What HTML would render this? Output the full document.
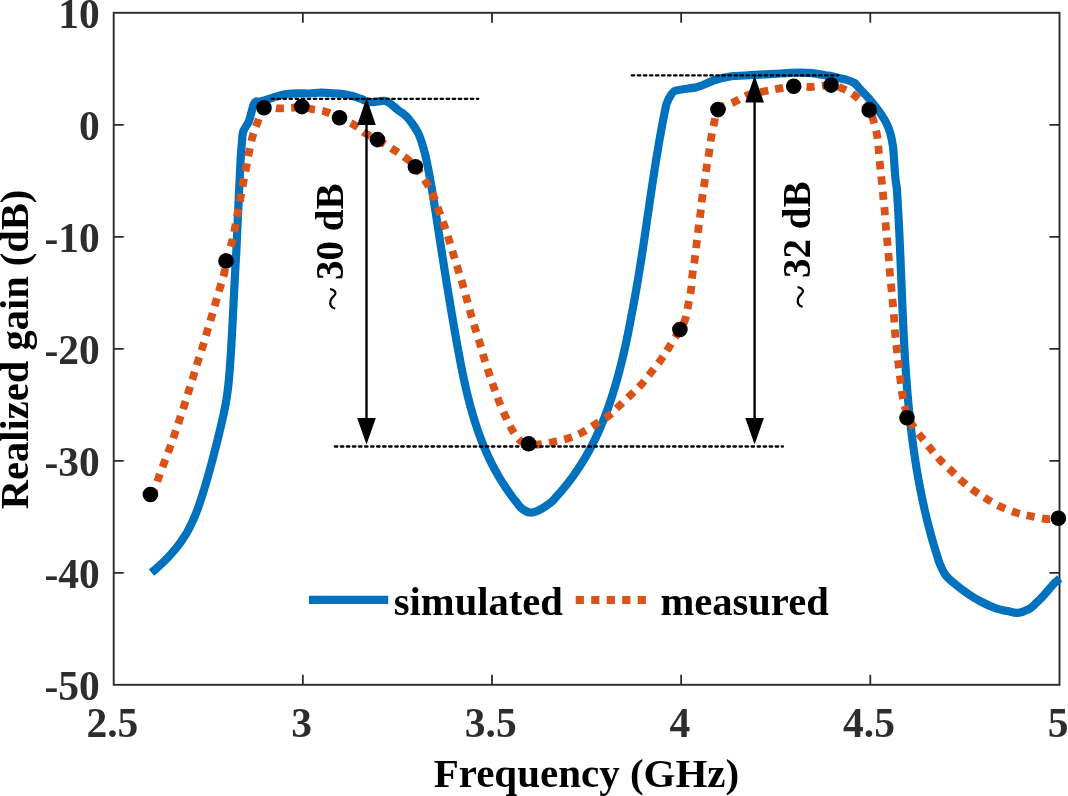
<!DOCTYPE html>
<html><head><meta charset="utf-8"><style>
html,body{margin:0;padding:0;background:#fff;width:1068px;height:796px;overflow:hidden;}
svg{display:block;font-family:"Liberation Serif",serif;will-change:transform;}
</style></head><body>
<svg width="1068" height="796" viewBox="0 0 1068 796" font-family="Liberation Serif, serif" font-weight="bold" font-size="40"><rect x="113.7" y="12.8" width="945.8" height="672.0" fill="none" stroke="#2b2b2b" stroke-width="1.9"/>
<path d="M302.85,684.8 V674.8 M302.85,12.8 V22.8 M492.00,684.8 V674.8 M492.00,12.8 V22.8 M681.15,684.8 V674.8 M681.15,12.8 V22.8 M870.30,684.8 V674.8 M870.30,12.8 V22.8 M113.7,572.80 H123.7 M1059.5,572.80 H1049.5 M113.7,460.80 H123.7 M1059.5,460.80 H1049.5 M113.7,348.80 H123.7 M1059.5,348.80 H1049.5 M113.7,236.80 H123.7 M1059.5,236.80 H1049.5 M113.7,124.80 H123.7 M1059.5,124.80 H1049.5" stroke="#2b2b2b" stroke-width="1.8" fill="none"/>
<g fill="#2d2d2d" font-size="41.5"><text x="99.8" y="699.7" text-anchor="end">-50</text><text x="99.8" y="587.7" text-anchor="end">-40</text><text x="99.8" y="475.7" text-anchor="end">-30</text><text x="99.8" y="363.7" text-anchor="end">-20</text><text x="99.8" y="251.7" text-anchor="end">-10</text><text x="99.8" y="139.7" text-anchor="end">0</text><text x="99.8" y="27.7" text-anchor="end">10</text><text x="112.4" y="736.6" text-anchor="middle">2.5</text><text x="301.6" y="736.6" text-anchor="middle">3</text><text x="490.7" y="736.6" text-anchor="middle">3.5</text><text x="679.9" y="736.6" text-anchor="middle">4</text><text x="869.0" y="736.6" text-anchor="middle">4.5</text><text x="1058.2" y="736.6" text-anchor="middle">5</text></g>
<text x="586.4" y="787.2" text-anchor="middle" fill="#000" font-size="41">Frequency (GHz)</text>
<text transform="translate(27.8,349.4) rotate(-90)" text-anchor="middle" fill="#000" font-size="40.5">Realized gain (dB)</text>
<path d="M151.50,572.60 C152.25,571.97 154.51,570.09 156.00,568.79 C157.49,567.49 158.98,566.15 160.45,564.78 C161.92,563.41 163.38,562.00 164.82,560.57 C166.26,559.14 167.68,557.68 169.07,556.19 C170.46,554.70 171.83,553.18 173.16,551.64 C174.49,550.10 175.79,548.53 177.05,546.93 C178.31,545.33 179.54,543.70 180.71,542.06 C181.88,540.41 183.02,538.75 184.10,537.06 C185.18,535.37 186.21,533.65 187.20,531.92 C188.19,530.19 189.13,528.44 190.03,526.67 C190.93,524.90 191.79,523.11 192.61,521.31 C193.43,519.51 194.21,517.69 194.97,515.86 C195.73,514.03 196.45,512.18 197.15,510.33 C197.85,508.48 198.52,506.62 199.18,504.74 C199.84,502.87 200.47,500.97 201.09,499.08 C201.71,497.19 202.31,495.29 202.90,493.39 C203.49,491.49 204.07,489.57 204.64,487.66 C205.21,485.75 205.78,483.83 206.34,481.91 C206.90,479.99 207.45,478.06 208.00,476.14 C208.55,474.21 209.09,472.29 209.62,470.36 C210.16,468.43 210.69,466.49 211.21,464.55 C211.73,462.61 212.25,460.66 212.76,458.72 C213.27,456.78 213.78,454.84 214.28,452.89 C214.78,450.94 215.28,448.98 215.77,447.03 C216.26,445.08 216.75,443.13 217.24,441.17 C217.73,439.21 218.20,437.25 218.68,435.29 C219.16,433.33 219.64,431.37 220.11,429.40 C220.58,427.43 221.06,425.47 221.52,423.50 C221.98,421.53 222.43,419.57 222.87,417.60 C223.31,415.63 223.74,413.65 224.15,411.68 C224.56,409.71 224.95,407.74 225.32,405.76 C225.69,403.78 226.03,401.81 226.35,399.83 C226.67,397.85 226.97,395.87 227.25,393.89 C227.53,391.91 227.77,389.93 228.01,387.95 C228.25,385.97 228.46,383.98 228.66,381.99 C228.86,380.00 229.04,378.03 229.21,376.04 C229.38,374.05 229.55,372.06 229.70,370.07 C229.85,368.08 229.99,366.09 230.13,364.10 C230.27,362.11 230.40,360.12 230.53,358.13 C230.66,356.14 230.79,354.14 230.91,352.15 C231.03,350.15 231.15,348.16 231.27,346.16 C231.39,344.16 231.50,342.17 231.62,340.17 C231.74,338.17 231.85,336.18 231.96,334.18 C232.07,332.18 232.18,330.18 232.29,328.18 C232.40,326.18 232.50,324.18 232.60,322.18 C232.70,320.18 232.81,318.17 232.91,316.17 C233.01,314.17 233.12,312.16 233.22,310.16 C233.32,308.16 233.42,306.15 233.52,304.15 C233.62,302.15 233.72,300.14 233.82,298.14 C233.92,296.14 234.03,294.13 234.13,292.13 C234.23,290.12 234.33,288.12 234.43,286.11 C234.53,284.10 234.64,282.10 234.74,280.09 C234.84,278.08 234.95,276.07 235.05,274.07 C235.16,272.06 235.26,270.06 235.37,268.06 C235.48,266.06 235.59,264.05 235.70,262.04 C235.81,260.03 235.92,258.03 236.04,256.02 C236.16,254.01 235.92,260.17 236.40,250.00 C236.88,239.83 238.22,209.70 238.90,195.00 C239.58,180.30 239.97,170.97 240.50,161.80 C241.03,152.63 241.62,145.13 242.10,140.00 C242.58,134.87 242.32,134.02 243.40,131.00 C244.48,127.98 247.27,124.98 248.60,121.90 C249.93,118.82 250.52,115.48 251.40,112.50 C252.28,109.52 253.05,105.87 253.90,104.00 C254.75,102.13 255.58,101.67 256.50,101.30 C257.42,100.93 258.30,101.92 259.40,101.80 C260.50,101.68 261.23,101.17 263.10,100.60 C264.97,100.03 268.58,99.02 270.60,98.40 C272.62,97.78 273.33,97.47 275.20,96.90 C277.07,96.33 279.90,95.48 281.80,95.00 C283.70,94.52 283.92,94.28 286.60,94.00 C289.28,93.72 294.13,93.38 297.90,93.30 C301.67,93.22 305.43,93.62 309.20,93.50 C312.97,93.38 317.03,92.65 320.50,92.60 C323.97,92.55 326.53,93.00 330.00,93.20 C333.47,93.40 337.53,93.33 341.30,93.80 C345.07,94.27 349.20,95.10 352.60,96.00 C356.00,96.90 358.87,98.18 361.70,99.20 C364.53,100.22 366.97,101.72 369.60,102.10 C372.23,102.48 374.87,101.70 377.50,101.50 C380.13,101.30 383.13,100.43 385.40,100.90 C387.67,101.37 389.02,102.78 391.10,104.30 C393.18,105.82 395.33,107.98 397.90,110.00 C400.47,112.02 404.18,114.23 406.50,116.40 C408.82,118.57 409.95,120.40 411.80,123.00 C413.65,125.60 416.10,129.23 417.60,132.00 C419.10,134.77 419.87,137.05 420.80,139.60 C421.73,142.15 422.45,144.72 423.20,147.30 C423.95,149.88 424.68,152.47 425.31,155.06 C425.94,157.65 426.46,160.24 427.00,162.84 C427.54,165.44 428.06,168.04 428.57,170.65 C429.08,173.26 429.57,175.88 430.05,178.50 C430.53,181.12 430.99,183.76 431.44,186.39 C431.89,189.02 432.33,191.66 432.77,194.30 C433.20,196.94 433.63,199.60 434.05,202.25 C434.47,204.90 434.89,207.56 435.30,210.22 C435.71,212.88 436.12,215.54 436.53,218.21 C436.94,220.88 437.35,223.56 437.76,226.23 C438.17,228.90 438.59,231.58 439.00,234.26 C439.41,236.94 439.82,239.62 440.24,242.30 C440.66,244.98 441.08,247.67 441.50,250.36 C441.92,253.05 442.34,255.74 442.76,258.43 C443.18,261.12 443.60,263.81 444.03,266.50 C444.46,269.19 444.89,271.88 445.32,274.57 C445.75,277.26 446.19,279.95 446.62,282.64 C447.06,285.33 447.49,288.03 447.93,290.72 C448.37,293.41 448.81,296.09 449.26,298.78 C449.70,301.47 450.15,304.15 450.60,306.84 C451.05,309.52 451.50,312.21 451.96,314.89 C452.41,317.57 452.87,320.25 453.33,322.92 C453.79,325.60 454.26,328.27 454.73,330.94 C455.20,333.61 455.66,336.27 456.14,338.93 C456.62,341.59 457.10,344.26 457.58,346.91 C458.06,349.56 458.55,352.21 459.04,354.85 C459.53,357.49 460.03,360.13 460.54,362.77 C461.05,365.40 461.57,368.04 462.10,370.66 C462.63,373.28 463.17,375.89 463.73,378.50 C464.29,381.11 464.86,383.72 465.45,386.31 C466.04,388.90 466.64,391.48 467.27,394.06 C467.89,396.64 468.53,399.21 469.20,401.77 C469.87,404.33 470.55,406.89 471.26,409.43 C471.97,411.97 472.70,414.50 473.46,417.02 C474.22,419.54 475.00,422.05 475.82,424.55 C476.64,427.05 477.48,429.54 478.36,432.02 C479.24,434.50 480.14,436.97 481.08,439.42 C482.02,441.87 482.99,444.31 484.00,446.74 C485.01,449.17 486.06,451.58 487.14,453.98 C488.22,456.38 489.34,458.77 490.51,461.14 C491.68,463.51 492.88,465.88 494.13,468.22 C495.38,470.56 496.66,472.89 498.00,475.20 C499.34,477.51 500.73,479.81 502.16,482.09 C503.59,484.37 505.07,486.63 506.60,488.88 C508.13,491.12 509.71,493.35 511.34,495.56 C512.97,497.77 514.66,499.97 516.40,502.14 C518.14,504.31 519.48,506.87 521.80,508.60 C524.12,510.33 527.53,512.18 530.30,512.50 C533.07,512.82 535.03,512.12 538.40,510.50 C541.77,508.88 547.52,505.09 550.50,502.80 C553.48,500.51 554.40,498.79 556.28,496.75 C558.16,494.71 559.98,492.64 561.76,490.56 C563.54,488.48 565.27,486.38 566.95,484.25 C568.63,482.12 570.27,479.98 571.86,477.81 C573.45,475.64 575.00,473.46 576.50,471.26 C578.00,469.06 579.47,466.84 580.89,464.60 C582.31,462.36 583.69,460.10 585.03,457.83 C586.37,455.56 587.67,453.27 588.94,450.96 C590.21,448.65 591.44,446.33 592.63,443.99 C593.82,441.65 594.98,439.29 596.10,436.92 C597.22,434.55 598.31,432.17 599.37,429.77 C600.43,427.37 601.46,424.96 602.46,422.53 C603.46,420.10 604.43,417.66 605.37,415.21 C606.31,412.76 607.21,410.29 608.10,407.81 C608.99,405.33 609.85,402.84 610.69,400.34 C611.53,397.84 612.34,395.32 613.13,392.80 C613.92,390.28 614.68,387.74 615.43,385.19 C616.18,382.64 616.90,380.09 617.61,377.53 C618.32,374.97 619.01,372.39 619.68,369.81 C620.35,367.23 621.01,364.64 621.65,362.04 C622.29,359.44 622.91,356.84 623.52,354.23 C624.13,351.62 624.72,348.99 625.30,346.36 C625.88,343.73 626.45,341.10 627.00,338.46 C627.55,335.82 628.09,333.17 628.61,330.52 C629.13,327.87 629.65,325.21 630.15,322.55 C630.65,319.89 631.19,316.86 631.63,314.55 C632.07,312.24 632.39,310.66 632.76,308.71 C633.13,306.76 633.51,304.81 633.87,302.86 C634.23,300.91 634.59,298.96 634.94,297.01 C635.29,295.06 635.64,293.10 635.98,291.15 C636.32,289.20 636.66,287.24 637.00,285.29 C637.34,283.34 637.66,281.38 637.99,279.43 C638.32,277.48 638.64,275.52 638.96,273.56 C639.28,271.60 639.60,269.64 639.91,267.68 C640.22,265.72 640.53,263.77 640.84,261.81 C641.15,259.85 641.46,257.89 641.76,255.93 C642.06,253.97 642.36,252.01 642.66,250.05 C642.96,248.09 643.26,246.13 643.55,244.17 C643.84,242.21 644.13,240.24 644.42,238.28 C644.71,236.32 645.00,234.36 645.29,232.40 C645.58,230.44 645.87,228.47 646.16,226.51 C646.45,224.55 646.74,222.58 647.02,220.62 C647.30,218.66 647.59,216.69 647.87,214.73 C648.15,212.77 648.44,210.81 648.73,208.85 C649.02,206.89 649.30,204.92 649.59,202.96 C649.88,201.00 650.17,199.03 650.46,197.07 C650.75,195.11 651.04,193.15 651.33,191.19 C651.62,189.23 651.91,187.26 652.20,185.30 C652.49,183.34 652.79,181.38 653.09,179.42 C653.39,177.46 653.69,175.50 653.99,173.54 C654.29,171.58 654.60,169.63 654.91,167.67 C655.22,165.71 655.53,163.75 655.84,161.79 C656.15,159.83 656.47,157.88 656.79,155.92 C657.11,153.96 657.43,152.00 657.76,150.05 C658.09,148.10 658.42,146.14 658.76,144.19 C659.10,142.24 659.43,140.28 659.77,138.33 C660.11,136.38 660.47,134.43 660.82,132.48 C661.17,130.53 661.53,128.58 661.89,126.63 C662.25,124.68 662.63,122.74 663.00,120.79 C663.37,118.84 663.75,116.90 664.13,114.95 C664.51,113.00 664.87,111.08 665.31,109.12 C665.75,107.16 665.92,105.49 666.80,103.20 C667.68,100.91 669.27,97.45 670.60,95.40 C671.93,93.35 672.73,91.92 674.80,90.90 C676.87,89.88 679.75,89.85 683.00,89.30 C686.25,88.75 691.47,88.12 694.30,87.60 C697.13,87.08 696.55,87.47 700.00,86.20 C703.45,84.93 710.00,81.62 715.00,80.00 C720.00,78.38 725.02,77.25 730.00,76.50 C734.98,75.75 739.92,75.82 744.90,75.50 C749.88,75.18 754.90,74.88 759.90,74.60 C764.90,74.32 770.38,74.05 774.90,73.80 C779.42,73.55 782.82,73.30 787.00,73.10 C791.18,72.90 795.83,72.58 800.00,72.60 C804.17,72.62 807.83,72.77 812.00,73.20 C816.17,73.63 821.67,74.68 825.00,75.20 C828.33,75.72 829.50,75.78 832.00,76.30 C834.50,76.82 837.50,77.72 840.00,78.30 C842.50,78.88 844.58,79.02 847.00,79.80 C849.42,80.58 852.50,81.63 854.50,83.00 C856.50,84.37 857.05,85.92 859.00,88.00 C860.95,90.08 863.78,92.83 866.20,95.50 C868.62,98.17 871.10,101.00 873.50,104.00 C875.90,107.00 878.47,110.33 880.60,113.50 C882.73,116.67 884.70,119.75 886.30,123.00 C887.90,126.25 889.08,129.08 890.20,133.00 C891.32,136.92 892.35,142.00 893.00,146.50 C893.65,151.00 893.78,155.75 894.10,160.00 C894.42,164.25 894.65,168.67 894.90,172.00 C895.15,175.33 895.29,177.33 895.60,180.00 C895.91,182.67 896.50,185.34 896.78,188.01 C897.06,190.68 897.14,193.35 897.31,196.03 C897.48,198.71 897.64,201.38 897.80,204.06 C897.96,206.74 898.11,209.41 898.26,212.09 C898.41,214.77 898.55,217.46 898.69,220.14 C898.83,222.82 898.97,225.50 899.10,228.19 C899.23,230.88 899.36,233.56 899.48,236.25 C899.60,238.94 899.72,241.62 899.84,244.31 C899.96,247.00 900.08,249.69 900.19,252.38 C900.30,255.07 900.41,257.76 900.52,260.45 C900.63,263.14 900.74,265.84 900.85,268.53 C900.96,271.22 901.06,273.92 901.17,276.61 C901.28,279.30 901.39,282.00 901.50,284.69 C901.61,287.38 901.71,290.08 901.82,292.77 C901.93,295.46 902.04,298.16 902.15,300.85 C902.26,303.54 902.38,306.24 902.49,308.93 C902.61,311.62 902.72,314.32 902.84,317.01 C902.96,319.70 903.08,322.40 903.21,325.09 C903.34,327.78 903.47,330.48 903.60,333.17 C903.74,335.86 903.88,338.56 904.02,341.25 C904.16,343.94 904.31,346.63 904.46,349.32 C904.61,352.01 904.77,354.70 904.93,357.39 C905.09,360.08 905.25,362.76 905.43,365.45 C905.61,368.13 905.79,370.82 905.98,373.50 C906.17,376.18 906.36,378.87 906.56,381.55 C906.76,384.23 906.97,386.92 907.19,389.60 C907.41,392.28 907.63,394.95 907.87,397.63 C908.11,400.31 908.35,402.99 908.60,405.66 C908.85,408.33 909.12,411.00 909.39,413.67 C909.66,416.34 909.94,419.01 910.23,421.68 C910.52,424.35 910.83,427.02 911.14,429.68 C911.45,432.34 911.77,435.00 912.11,437.66 C912.45,440.32 912.80,442.98 913.16,445.64 C913.52,448.30 913.88,450.95 914.27,453.60 C914.65,456.25 915.06,458.90 915.47,461.54 C915.88,464.19 916.30,466.83 916.74,469.47 C917.18,472.11 917.63,474.75 918.10,477.39 C918.57,480.03 919.05,482.66 919.55,485.29 C920.05,487.92 920.55,490.55 921.08,493.18 C921.61,495.81 922.15,498.43 922.71,501.05 C923.27,503.67 923.85,506.29 924.44,508.90 C925.04,511.51 925.65,514.12 926.28,516.73 C926.91,519.34 927.55,521.95 928.21,524.55 C928.87,527.15 929.56,529.75 930.26,532.34 C930.96,534.93 931.67,537.52 932.41,540.11 C933.15,542.70 933.91,545.28 934.69,547.86 C935.47,550.44 936.26,553.02 937.08,555.59 C937.90,558.16 938.20,560.08 939.60,563.30 C941.00,566.52 942.80,571.35 945.50,574.90 C948.20,578.45 951.92,581.37 955.80,584.60 C959.68,587.83 964.48,591.40 968.80,594.30 C973.12,597.20 977.40,599.75 981.70,602.00 C986.00,604.25 990.30,606.28 994.60,607.80 C998.90,609.32 1003.60,610.27 1007.50,611.10 C1011.40,611.93 1014.43,613.12 1018.00,612.80 C1021.57,612.48 1025.83,610.87 1028.90,609.20 C1031.97,607.53 1033.90,605.13 1036.40,602.80 C1038.90,600.47 1041.57,597.73 1043.90,595.20 C1046.23,592.67 1048.48,589.77 1050.40,587.60 C1052.32,585.43 1053.85,583.73 1055.40,582.20 C1056.95,580.67 1058.98,579.03 1059.70,578.40" fill="none" stroke="#0072BD" stroke-width="8.2" stroke-linejoin="round"/>
<g fill="none" stroke="#D95319" stroke-width="7.8" stroke-dasharray="8.2 7.18"><path d="M150.40,494.50 C151.05,493.62 152.93,492.02 154.30,489.20 C155.67,486.38 157.00,481.90 158.60,477.60 C160.20,473.30 162.10,468.17 163.90,463.40 C165.70,458.63 167.63,453.82 169.40,449.00 C171.17,444.18 172.83,439.33 174.50,434.50 C176.17,429.67 177.77,424.88 179.40,420.00 C181.03,415.12 182.72,410.12 184.30,405.20 C185.88,400.28 187.37,395.40 188.90,390.50 C190.43,385.60 191.98,380.70 193.50,375.80 C195.02,370.90 196.45,366.00 198.00,361.10 C199.55,356.20 201.28,351.30 202.80,346.40 C204.32,341.50 205.63,336.65 207.10,331.70 C208.57,326.75 210.15,321.65 211.60,316.70 C213.05,311.75 214.38,306.90 215.80,302.00 C217.22,297.10 218.68,292.10 220.10,287.30 C221.52,282.50 223.32,277.58 224.30,273.20 C225.28,268.82 224.75,266.10 226.00,261.00" stroke-dashoffset="0.56"/><path d="M226.00,261.00 C227.25,255.90 230.32,248.12 231.80,242.60 C233.28,237.08 233.92,232.90 234.90,227.90 C235.88,222.90 236.77,217.60 237.70,212.60 C238.63,207.60 239.57,202.90 240.50,197.90 C241.43,192.90 242.35,187.68 243.30,182.60 C244.25,177.52 245.22,172.57 246.20,167.40 C247.18,162.23 248.13,156.78 249.20,151.60 C250.27,146.42 251.18,141.25 252.60,136.30 C254.02,131.35 255.80,126.67 257.70,121.90 C259.60,117.13 260.33,109.95 264.00,107.70" stroke-dashoffset="0.50"/><path d="M264.00,107.70 C267.67,105.45 274.53,108.43 279.70,108.40 C284.87,108.37 291.32,107.80 295.00,107.50 C298.68,107.20 298.97,106.32 301.80,106.60" stroke-dashoffset="3.36"/><path d="M301.80,106.60 C304.63,106.88 308.03,108.35 312.00,109.20 C315.97,110.05 321.02,110.28 325.60,111.70 C330.18,113.12 334.77,115.52 339.50,117.70" stroke-dashoffset="9.90"/><path d="M339.50,117.70 C344.23,119.88 349.65,122.17 354.00,124.80 C358.35,127.43 361.70,131.03 365.60,133.50 C369.50,135.97 372.62,136.83 377.40,139.60" stroke-dashoffset="3.07"/><path d="M377.40,139.60 C382.18,142.37 389.47,146.97 394.30,150.10 C399.13,153.23 402.88,155.63 406.40,158.40 C409.92,161.17 412.02,162.55 415.40,166.70" stroke-dashoffset="14.67"/><path d="M415.40,166.70 C418.78,170.85 423.68,178.40 426.70,183.30 C429.72,188.20 431.47,191.50 433.50,196.10 C435.53,200.70 437.12,206.05 438.90,210.90 C440.68,215.75 442.52,220.35 444.20,225.20 C445.88,230.05 447.45,235.08 449.00,240.00 C450.55,244.92 452.00,249.80 453.50,254.70 C455.00,259.60 456.48,264.50 458.00,269.40 C459.52,274.30 461.17,279.25 462.60,284.10 C464.03,288.95 465.25,293.57 466.60,298.50 C467.95,303.43 469.27,308.70 470.70,313.70 C472.13,318.70 473.68,323.58 475.20,328.50 C476.72,333.42 478.33,338.30 479.80,343.20 C481.27,348.10 482.50,352.98 484.00,357.90 C485.50,362.82 487.17,367.80 488.80,372.70 C490.43,377.60 492.08,382.48 493.80,387.30 C495.52,392.12 497.20,396.85 499.10,401.60 C501.00,406.35 503.05,411.17 505.20,415.80 C507.35,420.43 509.48,425.25 512.00,429.40 C514.52,433.55 517.53,438.32 520.30,440.70 C523.07,443.08 525.58,443.07 528.60,443.70" stroke-dashoffset="15.22"/><path d="M528.60,443.70 C531.62,444.33 534.50,444.75 538.40,444.50 C542.30,444.25 547.10,443.20 552.00,442.20 C556.90,441.20 562.77,440.13 567.80,438.50 C572.83,436.87 577.55,434.80 582.20,432.40 C586.85,430.00 591.30,426.87 595.70,424.10 C600.10,421.33 604.72,418.82 608.60,415.80 C612.48,412.78 615.28,409.50 619.00,406.00 C622.72,402.50 627.15,398.42 630.90,394.80 C634.65,391.18 638.10,388.07 641.50,384.30 C644.90,380.53 648.03,376.35 651.30,372.20 C654.57,368.05 658.08,363.67 661.10,359.40 C664.12,355.13 666.27,351.58 669.40,346.60 C672.53,341.62 677.27,334.03 679.90,329.50" stroke-dashoffset="10.01"/><path d="M679.90,329.50 C682.53,324.97 683.82,323.47 685.20,319.40 C686.58,315.33 687.23,310.00 688.20,305.10 C689.17,300.20 690.30,295.05 691.00,290.00 C691.70,284.95 691.78,279.85 692.40,274.80 C693.02,269.75 694.00,264.85 694.70,259.70 C695.40,254.55 695.98,249.05 696.60,243.90 C697.22,238.75 697.77,233.83 698.40,228.80 C699.03,223.77 699.77,218.85 700.40,213.70 C701.03,208.55 701.52,203.05 702.20,197.90 C702.88,192.75 703.78,187.78 704.50,182.80 C705.22,177.82 705.75,172.97 706.50,168.00 C707.25,163.03 708.20,158.13 709.00,153.00 C709.80,147.87 710.42,142.35 711.30,137.20 C712.18,132.05 713.18,126.70 714.30,122.10 C715.42,117.50 714.62,112.98 718.00,109.60" stroke-dashoffset="8.72"/><path d="M718.00,109.60 C721.38,106.22 729.57,104.23 734.60,101.80 C739.63,99.37 743.17,96.77 748.20,95.00 C753.23,93.23 759.78,92.25 764.80,91.20 C769.82,90.15 773.48,89.53 778.30,88.70 C783.12,87.87 788.30,86.48 793.70,86.20" stroke-dashoffset="0.26"/><path d="M793.70,86.20 C799.10,85.92 804.47,87.18 810.70,87.00 C816.93,86.82 825.82,84.85 831.10,85.10" stroke-dashoffset="2.45"/><path d="M831.10,85.10 C836.38,85.35 838.38,86.68 842.40,88.50 C846.42,90.32 850.73,92.43 855.20,96.00 C859.67,99.57 866.18,105.88 869.20,109.90" stroke-dashoffset="7.60"/><path d="M869.20,109.90 C872.22,113.92 871.98,115.88 873.30,120.10 C874.62,124.32 876.22,130.30 877.10,135.20 C877.98,140.10 878.12,144.50 878.60,149.50 C879.08,154.50 879.50,160.05 880.00,165.20 C880.50,170.35 881.07,175.27 881.60,180.40 C882.13,185.53 882.68,190.87 883.20,196.00 C883.72,201.13 884.27,206.12 884.70,211.20 C885.13,216.28 885.37,221.42 885.80,226.50 C886.23,231.58 886.82,236.62 887.30,241.70 C887.78,246.78 888.28,251.92 888.70,257.00 C889.12,262.08 889.37,267.12 889.80,272.20 C890.23,277.28 890.80,282.40 891.30,287.50 C891.80,292.60 892.33,297.70 892.80,302.80 C893.27,307.90 893.72,312.97 894.10,318.10 C894.48,323.23 894.65,328.42 895.10,333.60 C895.55,338.78 896.23,344.08 896.80,349.20 C897.37,354.32 897.90,359.22 898.50,364.30 C899.10,369.38 899.75,374.58 900.40,379.70 C901.05,384.82 901.60,390.25 902.40,395.00 C903.20,399.75 904.43,404.40 905.20,408.20 C905.97,412.00 905.83,415.02 907.00,417.80" stroke-dashoffset="8.81"/><path d="M907.00,417.80 C908.17,420.58 909.95,421.83 912.20,424.90 C914.45,427.97 917.48,432.30 920.50,436.20 C923.52,440.10 927.03,444.33 930.30,448.30 C933.57,452.27 936.58,456.23 940.10,460.00 C943.62,463.77 947.70,467.33 951.40,470.90 C955.10,474.47 958.45,478.05 962.30,481.40 C966.15,484.75 970.28,487.98 974.50,491.00 C978.72,494.02 983.10,496.83 987.60,499.50 C992.10,502.17 996.73,504.82 1001.50,507.00 C1006.27,509.18 1011.45,511.10 1016.20,512.60 C1020.95,514.10 1024.95,514.93 1030.00,516.00 C1035.05,517.07 1041.77,518.63 1046.50,519.00 C1051.23,519.37 1056.42,518.33 1058.40,518.20" stroke-dashoffset="11.15"/></g>
<path d="M271.5,98.8 H478.3 M631.8,75.4 H838.2 M334.8,446.5 H782.9" stroke="#000" stroke-width="2.3" stroke-dasharray="2.5 3.54" stroke-linecap="round" fill="none"/>
<path d="M366.5,118.1 V424.5" stroke="#000" stroke-width="2.4"/><path d="M366.5,98.1 L357.2,125.1 L375.8,125.1 Z" fill="#000"/><path d="M366.5,444.5 L357.2,418.1 L375.8,418.1 Z" fill="#000"/>
<path d="M754.6,95.4 V424.5" stroke="#000" stroke-width="2.4"/><path d="M754.6,75.4 L745.3000000000001,102.4 L763.9,102.4 Z" fill="#000"/><path d="M754.6,444.5 L745.3000000000001,418.1 L763.9,418.1 Z" fill="#000"/>
<g fill="#000"><circle cx="150.4" cy="494.5" r="7.8"/><circle cx="226" cy="261" r="7.8"/><circle cx="264" cy="107.7" r="7.8"/><circle cx="301.8" cy="106.6" r="7.8"/><circle cx="339.5" cy="117.7" r="7.8"/><circle cx="377.4" cy="139.6" r="7.8"/><circle cx="415.4" cy="166.7" r="7.8"/><circle cx="528.6" cy="443.7" r="7.8"/><circle cx="679.9" cy="329.5" r="7.8"/><circle cx="718" cy="109.6" r="7.8"/><circle cx="793.7" cy="86.2" r="7.8"/><circle cx="831.1" cy="85.1" r="7.8"/><circle cx="869.2" cy="109.9" r="7.8"/><circle cx="907" cy="417.8" r="7.8"/><circle cx="1058.4" cy="518.2" r="7.8"/></g>
<text transform="translate(343.4,280) rotate(-90)" fill="#000" font-size="39">30 dB</text>
<path d="M335.2,308.7 C331,307.7 329.5,304.7 330.5,300.7 S335.5,295.7 335.5,293.2 S332,289.2 330,289.09999999999997" fill="none" stroke="#000" stroke-width="2.2"/>
<text transform="translate(810.2,278) rotate(-90)" fill="#000" font-size="39">32 dB</text>
<path d="M802.7,306.8 C798.5,305.8 797.0,302.8 798.0,298.8 S803.0,293.8 803.0,291.3 S799.5,287.3 797.5,287.2" fill="none" stroke="#000" stroke-width="2.2"/>
<path d="M309,599.8 H388.2" stroke="#0072BD" stroke-width="8.2"/>
<path d="M575.7,600 H647.1" stroke="#D95319" stroke-width="7.8" stroke-dasharray="8.2 7.3"/>
<text x="393.8" y="614.6" fill="#000" font-size="40.6">simulated</text>
<text x="660.4" y="614.6" fill="#000" font-size="40.6">measured</text></svg>
</body></html>
